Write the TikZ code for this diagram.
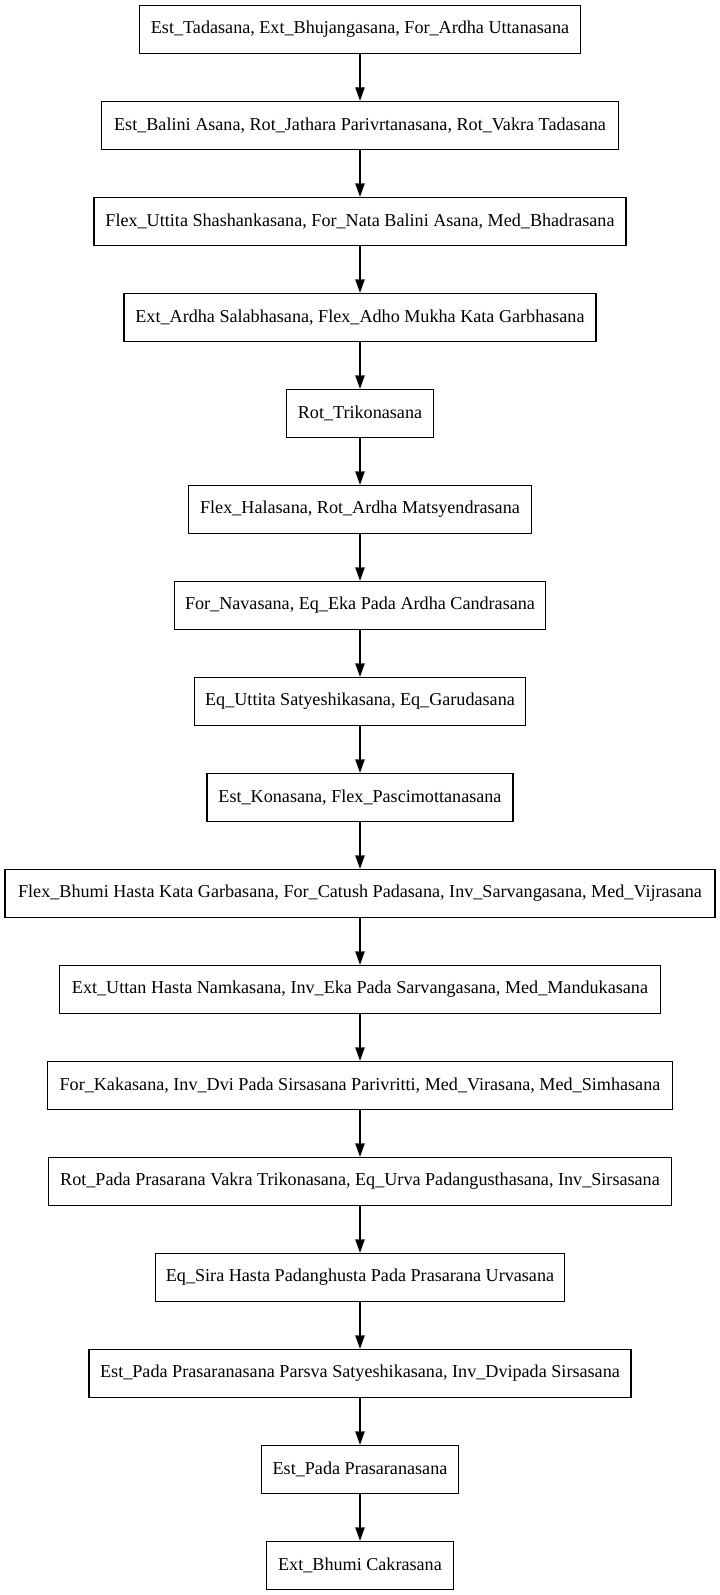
\documentclass[tikz,border=0pt]{standalone}
\usepackage{fontspec}
\setmainfont{Liberation Serif}
\usetikzlibrary{arrows.meta}
\tikzset{
  nbox/.style={draw=black, line width=0.9pt, rectangle, minimum height=36pt, inner xsep=1pt, inner ysep=0pt,
    font=\fontsize{13.6pt}{16pt}\selectfont, anchor=center},
  edge/.style={draw=black, line width=0.9pt, -{Triangle[length=10pt,width=7pt]}}
}
\begin{document}
\begin{tikzpicture}[x=1pt,y=1pt]
\useasboundingbox[fill=white] (0,0) rectangle (540,-1196.25);
\node[nbox, minimum width=330.2pt] (n1) at (270,-22) {Est\_Tadasana, Ext\_Bhujangasana, For\_Ardha Uttanasana};
\node[nbox, minimum width=388.2pt] (n2) at (270,-94) {Est\_Balini Asana, Rot\_Jathara Parivrtanasana, Rot\_Vakra Tadasana};
\node[nbox, minimum width=398.9pt] (n3) at (270,-166) {Flex\_Uttita Shashankasana, For\_Nata Balini Asana, Med\_Bhadrasana};
\node[nbox, minimum width=353.9pt] (n4) at (270,-238) {Ext\_Ardha Salabhasana, Flex\_Adho Mukha Kata Garbhasana};
\node[nbox, minimum width=110.6pt] (n5) at (270,-310) {Rot\_Trikonasana};
\node[nbox, minimum width=257.0pt] (n6) at (270,-382) {Flex\_Halasana, Rot\_Ardha Matsyendrasana};
\node[nbox, minimum width=278.4pt] (n7) at (270,-454) {For\_Navasana, Eq\_Eka Pada Ardha Candrasana};
\node[nbox, minimum width=247.9pt] (n8) at (270,-526) {Eq\_Uttita Satyeshikasana, Eq\_Garudasana};
\node[nbox, minimum width=229.6pt] (n9) at (270,-598) {Est\_Konasana, Flex\_Pascimottanasana};
\node[nbox, minimum width=532.4pt] (n10) at (270,-670) {Flex\_Bhumi Hasta Kata Garbasana, For\_Catush Padasana, Inv\_Sarvangasana, Med\_Vijrasana};
\node[nbox, minimum width=450.8pt] (n11) at (270,-742) {Ext\_Uttan Hasta Namkasana, Inv\_Eka Pada Sarvangasana, Med\_Mandukasana};
\node[nbox, minimum width=469.1pt] (n12) at (270,-814) {For\_Kakasana, Inv\_Dvi Pada Sirsasana Parivritti, Med\_Virasana, Med\_Simhasana};
\node[nbox, minimum width=467.5pt] (n13) at (270,-886) {Rot\_Pada Prasarana Vakra Trikonasana, Eq\_Urva Padangusthasana, Inv\_Sirsasana};
\node[nbox, minimum width=306.6pt] (n14) at (270,-958) {Eq\_Sira Hasta Padanghusta Pada Prasarana Urvasana};
\node[nbox, minimum width=406.5pt] (n15) at (270,-1030) {Est\_Pada Prasaranasana Parsva Satyeshikasana, Inv\_Dvipada Sirsasana};
\node[nbox, minimum width=147.2pt] (n16) at (270,-1102) {Est\_Pada Prasaranasana};
\node[nbox, minimum width=140.3pt] (n17) at (270,-1174) {Ext\_Bhumi Cakrasana};
\foreach \a/\b in {1/2,2/3,3/4,4/5,5/6,6/7,7/8,8/9,9/10,10/11,11/12,12/13,13/14,14/15,15/16,16/17}
  \draw[edge] (n\a.south) -- (n\b.north);
\end{tikzpicture}
\end{document}
